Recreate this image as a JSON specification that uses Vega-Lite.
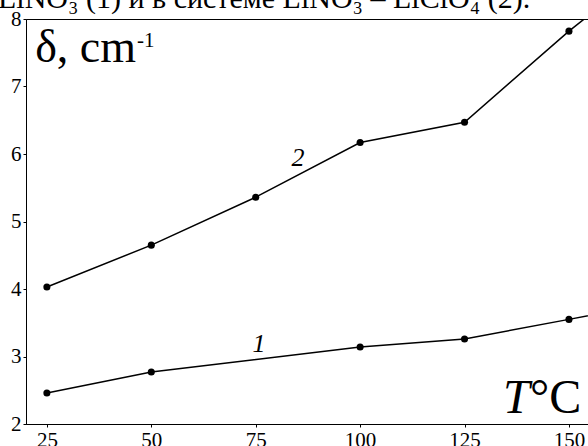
{
  "$schema": "https://vega.github.io/schema/vega-lite/v6.json",
  "width": 563,
  "height": 405,
  "autosize": {"type": "none"},
  "padding": {"left": 26, "top": 19, "right": 0, "bottom": 22},
  "background": "white",
  "config": {
    "view": {"stroke": "black", "strokeWidth": 1},
    "axis": {
      "grid": false,
      "title": null,
      "format": "d",
      "domainColor": "black",
      "domainWidth": 1,
      "tickColor": "black",
      "tickSize": 3,
      "labelFont": "Liberation Serif",
      "labelFontSize": 21,
      "labelColor": "black",
      "labelPadding": 2,
      "labelFlush": false,
      "labelOverlap": false
    }
  },
  "datasets": {
    "series": [
      {"curve": "1", "T": 25, "delta": 2.46},
      {"curve": "1", "T": 50, "delta": 2.77},
      {"curve": "1", "T": 100, "delta": 3.14},
      {"curve": "1", "T": 125, "delta": 3.26},
      {"curve": "1", "T": 150, "delta": 3.55},
      {"curve": "1", "T": 175, "delta": 3.85},
      {"curve": "2", "T": 25, "delta": 4.03},
      {"curve": "2", "T": 50, "delta": 4.65},
      {"curve": "2", "T": 75, "delta": 5.36},
      {"curve": "2", "T": 100, "delta": 6.17},
      {"curve": "2", "T": 125, "delta": 6.47},
      {"curve": "2", "T": 150, "delta": 7.82},
      {"curve": "2", "T": 175, "delta": 9.05}
    ]
  },
  "layer": [
    {
      "data": {"name": "series"},
      "mark": {"type": "line", "color": "black", "strokeWidth": 1.5, "clip": true},
      "encoding": {
        "x": {
          "field": "T",
          "type": "quantitative",
          "scale": {"domain": [20, 154.8], "nice": false, "zero": false},
          "axis": {"values": [25, 50, 75, 100, 125, 150]}
        },
        "y": {
          "field": "delta",
          "type": "quantitative",
          "scale": {"domain": [2, 8], "nice": false, "zero": false},
          "axis": {"values": [2, 3, 4, 5, 6, 7, 8]}
        },
        "detail": {"field": "curve"}
      }
    },
    {
      "data": {"name": "series"},
      "mark": {"type": "point", "filled": true, "size": 50, "color": "black", "opacity": 1, "clip": true},
      "encoding": {
        "x": {"field": "T", "type": "quantitative"},
        "y": {"field": "delta", "type": "quantitative"}
      }
    },
    {
      "data": {"values": [{}]},
      "mark": {"type": "text", "text": "LiNO₃ (1) и в системе LiNO₃ – LiClO₄ (2).", "font": "Liberation Serif", "fontSize": 30, "align": "left", "baseline": "alphabetic", "color": "black"},
      "encoding": {
        "x": {"datum": 13.3, "type": "quantitative"},
        "y": {"datum": 8.163, "type": "quantitative"}
      }
    },
    {
      "data": {"values": [{}]},
      "mark": {"type": "text", "text": "δ, cm", "font": "Liberation Serif", "fontSize": 46, "align": "left", "baseline": "alphabetic", "color": "black"},
      "encoding": {
        "x": {"datum": 22.2, "type": "quantitative"},
        "y": {"datum": 7.36, "type": "quantitative"}
      }
    },
    {
      "data": {"values": [{}]},
      "mark": {"type": "text", "text": "-1", "font": "Liberation Serif", "fontSize": 21, "align": "left", "baseline": "alphabetic", "color": "black"},
      "encoding": {
        "x": {"datum": 46.6, "type": "quantitative"},
        "y": {"datum": 7.59, "type": "quantitative"}
      }
    },
    {
      "data": {"values": [{}]},
      "mark": {"type": "text", "text": "T", "font": "Liberation Serif", "fontSize": 48, "fontStyle": "italic", "align": "left", "baseline": "alphabetic", "color": "black"},
      "encoding": {
        "x": {"datum": 134.2, "type": "quantitative"},
        "y": {"datum": 2.163, "type": "quantitative"}
      }
    },
    {
      "data": {"values": [{}]},
      "mark": {"type": "text", "text": "°C", "font": "Liberation Serif", "fontSize": 48, "align": "left", "baseline": "alphabetic", "color": "black"},
      "encoding": {
        "x": {"datum": 140.7, "type": "quantitative"},
        "y": {"datum": 2.163, "type": "quantitative"}
      }
    },
    {
      "data": {"values": [{}]},
      "mark": {"type": "text", "text": "1", "font": "Liberation Serif", "fontSize": 26, "fontStyle": "italic", "align": "center", "baseline": "middle", "color": "black"},
      "encoding": {
        "x": {"datum": 75.8, "type": "quantitative"},
        "y": {"datum": 3.19, "type": "quantitative"}
      }
    },
    {
      "data": {"values": [{}]},
      "mark": {"type": "text", "text": "2", "font": "Liberation Serif", "fontSize": 26, "fontStyle": "italic", "align": "center", "baseline": "middle", "color": "black"},
      "encoding": {
        "x": {"datum": 85.1, "type": "quantitative"},
        "y": {"datum": 5.94, "type": "quantitative"}
      }
    }
  ]
}
